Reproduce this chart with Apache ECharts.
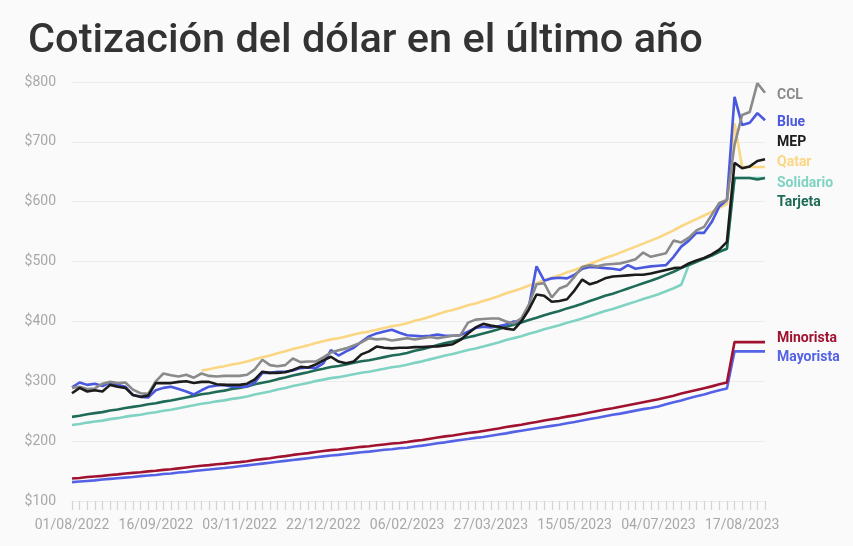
<!DOCTYPE html>
<html>
<head>
<meta charset="utf-8">
<script src="https://cdn.jsdelivr.net/npm/echarts@6/dist/echarts.min.js"></script>
<style>
html,body{margin:0;padding:0;background:#fafafa;}
#c{width:853px;height:546px;}
</style>
</head>
<body>
<div id="c"></div>
<script>
// Tick labels shown on the x axis (one every 11 samples)
const tickLabels = ['01/08/2022','16/09/2022','03/11/2022','22/12/2022','06/02/2023','27/03/2023','15/05/2023','04/07/2023','17/08/2023'];

// Series values (one sample every ~3 business days, 92 samples)
const mayorista = [131.5,132.5,133.5,134.5,136,137,138,139,140,141.5,142.5,143.5,
145,146,147.5,148.5,150,151.5,152.5,154,155,156.5,158,
159.5,161,162.5,164,165.5,167,168.5,170,171.5,173,174.5,
176,177,178.5,180,181.5,182.5,184,185.5,186.5,188,189,
191,192.5,194.5,196.5,198,200,202,203.5,205.5,207,209,
211,213,215.5,217.5,219.5,221.5,223.5,225.5,227.5,230,232,
234.5,237,239,241.5,244,246,248.5,251,253.5,255.5,258,
261.5,265,268,271.5,275,278,281.5,285,288,
350,350,350,350,350];

const minorista = [137.5,138.5,140,141,142,143.5,144.5,146,147,148,149.5,150.5,
152,153,154.5,156,157.5,159,160,161.5,162.5,164,165,
166.5,168.5,170,171.5,173.5,175,177,178.5,180,182,183.5,
185,186,187.5,189,190.5,191.5,193,194.5,196,197,198.5,
200.5,202,204,206,208,209.5,211.5,213.5,215,217,219,
221,223.5,225.5,227.5,230,232,234.5,236.5,238.5,241,243,
245.5,248,250.5,253,255,257.5,260,262.5,265,267.5,270,
273,276,279.5,282.5,285.5,288.5,291.5,295,298,
365.5,365.5,365.5,365.5,365.5];

const tarjeta = [240.6,242.4,245,246.8,248.5,251.1,252.9,255.5,257.3,259,261.6,263.4,
266,267.8,270.4,273,275.6,278.3,280,282.6,284.4,287,288.8,
291.4,294.9,297.5,300.1,303.6,306.3,309.8,312.4,315,318.5,321.1,
323.8,325.5,328.1,330.8,333.4,335.1,337.8,340.4,343,344.8,347.4,
350.9,353.5,357,360.5,364,366.6,370.1,373.6,376.3,379.8,383.3,
386.8,391.1,394.6,398.1,402.5,406,410.4,413.9,417.4,421.8,425.3,
429.6,434,438.4,442.8,446.3,450.6,455,459.4,463.8,468.1,472.5,
477.8,483,489.1,494.4,499.6,504.9,510.1,516.3,521.5,
639.6,639.6,639.6,637,639.6];

const solidario = [226.9,228.5,231,232.7,234.3,236.8,238.4,240.9,242.6,244.2,246.7,248.3,
250.8,252.5,254.9,257.4,259.9,262.4,264,266.5,268.1,270.6,272.3,
274.7,278,280.5,283,286.3,288.8,292.1,294.5,297,300.3,302.8,
305.3,306.9,309.4,311.9,314.3,316,318.5,320.9,323.4,325,327.5,
330.8,333.3,336.6,339.9,343.2,345.7,349,352.3,354.8,358,361.4,
364.7,368.8,372.1,375.4,379.5,382.8,386.9,390.2,393.5,397.7,401,
405,409.2,413.3,417.5,420.8,424.9,429,433.1,437.3,441.4,445.5,
450.5,455.4,461.2,494.4,499.6,504.9,510.1,516.3,521.5,
639.6,639.6,639.6,639.6,639.6];

const qatar = [null,null,null,null,null,null,null,null,null,null,null,null,
null,null,null,null,null,318,320,323,325,328,330,
333,337,340,343,347,350,354,357,360,364,367,
370,372,375,378,381,383,386,389,392,394,397,
401,404,408,412,416,419,423,427,430,434,438,
442,447,451,455,460,464,469,473,477,482,486,
491,496,501,506,510,515,520,525,530,535,540,
546,552,559,565,571,577,583,590,596,
731,658,658,658,658];

const blue = [290,298,294,296,292,298,294,291,277,274,273,285,
289,291,287,283,278,285,291,293,294,291,291,
291,298,314,314,316,316,318,322,323,322,330,
352,343,350,356,366,375,380,383,386,381,377,
376,375,376,378,376,376,377,383,389,391,390,
392,395,400,400,425,492,468,472,473,472,478,
488,491,490,489,488,486,494,488,490,492,493,
494,508,525,535,548,548,566,592,603,
775,728,732,748,736];

const ccl = [289,291,287,288,296,299,297,298,286,280,279,300,
313,310,308,311,306,313,309,308,309,309,309,
311,320,336,327,325,327,338,332,333,333,340,
348,352,355,360,365,372,370,371,368,370,372,
370,372,374,372,374,376,377,398,403,404,405,
405,400,397,405,428,462,464,440,455,460,475,
491,494,492,495,496,497,500,504,515,508,511,
514,535,532,540,552,558,578,598,603,
695,745,750,798,782];

const mep = [280,289,283,285,283,294,291,289,277,274,276,297,
297,297,299,300,297,299,299,295,294,294,294,
296,303,316,314,314,315,319,324,323,328,335,
341,333,330,333,345,350,358,356,355,356,356,
357,357,358,358,360,362,369,380,390,396,393,
391,388,386,400,420,445,443,433,434,437,452,
470,462,466,472,475,476,477,478,478,480,483,
486,489,490,497,502,506,512,520,533,
665,656,659,668,671];

// Category names: sample dates (every ~3 business days, anchored on tick labels)
function parseD(s){const p=s.split('/');return new Date(Date.UTC(+p[2],+p[1]-1,+p[0]));}
function fmtD(d){const dd=String(d.getUTCDate()).padStart(2,'0');const mm=String(d.getUTCMonth()+1).padStart(2,'0');return dd+'/'+mm+'/'+d.getUTCFullYear();}
const categories = [];
for (let k=0;k<tickLabels.length-1;k++){
  const a=parseD(tickLabels[k]), b=parseD(tickLabels[k+1]);
  const days=[];
  for(let t=a.getTime(); t<b.getTime(); t+=86400000){const d=new Date(t);const w=d.getUTCDay(); if(w!==0&&w!==6) days.push(d);}
  for(let j=0;j<11;j++){categories.push(fmtD(days[Math.round(j*days.length/11)]));}
}
{
  let d=parseD(tickLabels[tickLabels.length-1]); categories.push(fmtD(d));
  while(categories.length<blue.length){let n=0;while(n<3){d=new Date(d.getTime()+86400000);const w=d.getUTCDay();if(w!==0&&w!==6)n++;}categories.push(fmtD(d));}
}

const FONT = 'Roboto, "Noto Sans", sans-serif';
function mk(name, data, color, dy, labelColor){
  return {
    name: name, type: 'line', data: data, showSymbol: false, symbol: 'none',
    connectNulls: false,
    lineStyle: {width: 2.6, color: color},
    itemStyle: {color: color},
    emphasis: {disabled: true},
    endLabel: {show: true, formatter: name, color: labelColor || color, fontFamily: FONT,
      fontSize: 14, fontWeight: 'bold', distance: 12, offset: [0, dy]}
  };
}

const chart = echarts.init(document.getElementById('c'), null, {renderer: 'canvas'});
chart.setOption({
  animation: false,
  backgroundColor: '#fafafa',
  title: {text: 'Cotización del dólar en el último año', left: 23, top: 16,
    textStyle: {fontFamily: FONT, fontSize: 41.5, fontWeight: 500, color: '#333333'}},
  grid: {left: 72, right: 88, top: 82, bottom: 45},
  xAxis: {
    type: 'category', data: categories, boundaryGap: false,
    axisLine: {show: true, lineStyle: {color: '#ececec', width: 1}},
    axisTick: {show: true, interval: 0, inside: false, length: 9, lineStyle: {color: '#d4d4d4', width: 1.2}},
    axisLabel: {interval: 10, margin: 17, color: '#a8a8a8', fontFamily: FONT, fontSize: 14,
      formatter: function(v, i){ return tickLabels[i/11] !== undefined ? tickLabels[i/11] : v; }},
    splitLine: {show: false}
  },
  yAxis: {
    type: 'value', min: 100, max: 800, interval: 100,
    axisLine: {show: false}, axisTick: {show: false},
    axisLabel: {margin: 16, color: '#a8a8a8', fontFamily: FONT, fontSize: 14, formatter: '${value}'},
    splitLine: {lineStyle: {color: '#ececec', width: 1}}
  },
  series: [
    mk('Mayorista', mayorista, '#5462e6', 6),
    mk('Minorista', minorista, '#a0122f', -3.5),
    mk('Solidario', solidario, '#80d3c3', 5),
    mk('Tarjeta', tarjeta, '#1f6b58', 24),
    mk('Qatar', qatar, '#fbd683', -4.5),
    mk('Blue', blue, '#4a58e0', 2.5),
    mk('CCL', ccl, '#8a8a8a', 2.5),
    mk('MEP', mep, '#1c1c1c', -16.5)
  ]
});
</script>
</body>
</html>
